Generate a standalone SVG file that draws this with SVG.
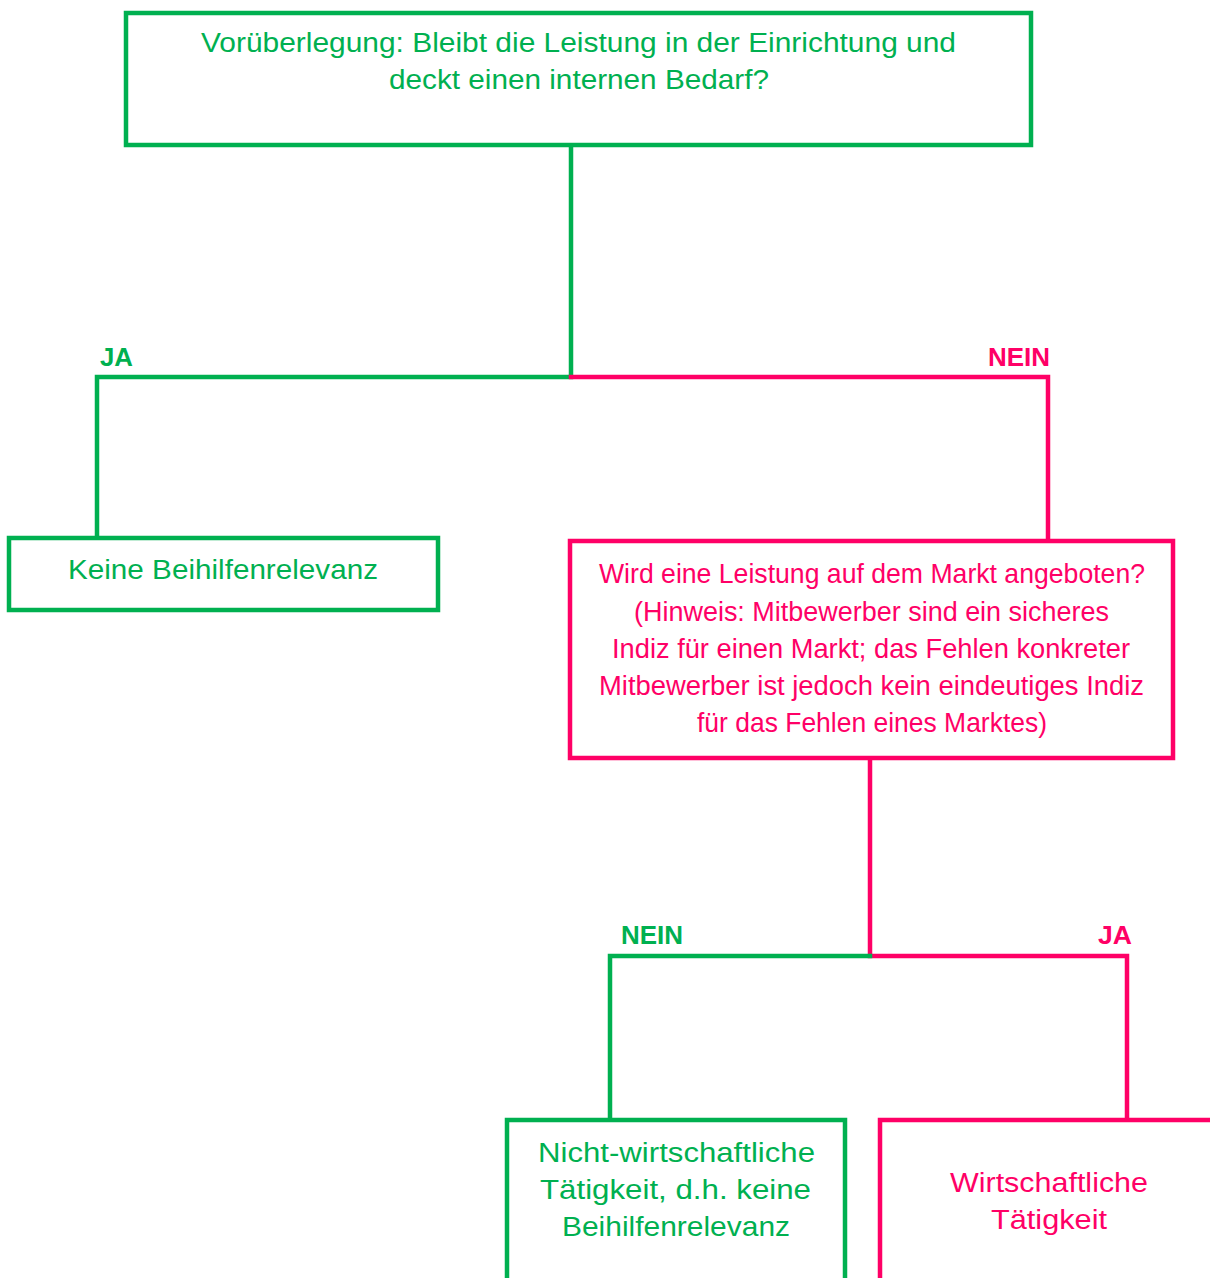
<svg xmlns="http://www.w3.org/2000/svg" width="1210" height="1278" viewBox="0 0 1210 1278">
<style>
.g{stroke:#00B050}
.p{stroke:#FF0066}
.box{fill:#fff;stroke-width:4.5}
.ln{fill:none;stroke-width:4.5;stroke-linecap:square}
.t{font-family:"Liberation Sans",Arial,sans-serif;font-size:27.5px;text-anchor:middle}
.lb{font-family:"Liberation Sans",Arial,sans-serif;font-size:25px;font-weight:bold}
.tg{fill:#00B050}
.tp{fill:#FF0066}
</style>
<rect width="1210" height="1278" fill="#fff"/>
<g id="connectors">
<polyline class="ln g" points="571,147 571,377 97,377 97,536"/>
<polyline class="ln p" points="571,377 1048,377 1048,539"/>
<polyline class="ln p" points="870,760 870,956 1127,956 1127,1118"/>
<polyline class="ln g" points="870,956 610,956 610,1118"/>
<text class="lb tg" x="100" y="366" textLength="33" lengthAdjust="spacingAndGlyphs">JA</text>
<text class="lb tp" x="988" y="366" textLength="62" lengthAdjust="spacingAndGlyphs">NEIN</text>
<text class="lb tg" x="621" y="944" textLength="62" lengthAdjust="spacingAndGlyphs">NEIN</text>
<text class="lb tp" x="1098" y="944" textLength="34" lengthAdjust="spacingAndGlyphs">JA</text>
</g>
<g id="n1">
<rect class="box g" x="126" y="13" width="905" height="132"/>
<text class="t tg" x="578.5" y="52" textLength="755" lengthAdjust="spacingAndGlyphs">Vorüberlegung: Bleibt die Leistung in der Einrichtung und</text>
<text class="t tg" x="579" y="89" textLength="380" lengthAdjust="spacingAndGlyphs">deckt einen internen Bedarf?</text>
</g>
<g id="n2">
<rect class="box g" x="9" y="538" width="429" height="72"/>
<text class="t tg" x="223" y="579" textLength="310" lengthAdjust="spacingAndGlyphs">Keine Beihilfenrelevanz</text>
</g>
<g id="n3">
<rect class="box p" x="570" y="541" width="603" height="217"/>
<text class="t tp" x="872" y="583" textLength="546" lengthAdjust="spacingAndGlyphs">Wird eine Leistung auf dem Markt angeboten?</text>
<text class="t tp" x="871.5" y="621" textLength="475" lengthAdjust="spacingAndGlyphs">(Hinweis: Mitbewerber sind ein sicheres</text>
<text class="t tp" x="871" y="658" textLength="518" lengthAdjust="spacingAndGlyphs">Indiz für einen Markt; das Fehlen konkreter</text>
<text class="t tp" x="871.5" y="695" textLength="545" lengthAdjust="spacingAndGlyphs">Mitbewerber ist jedoch kein eindeutiges Indiz</text>
<text class="t tp" x="872" y="732" textLength="350" lengthAdjust="spacingAndGlyphs">für das Fehlen eines Marktes)</text>
</g>
<g id="n4">
<rect class="box g" x="507" y="1120" width="338" height="170"/>
<text class="t tg" x="676.5" y="1162" textLength="277" lengthAdjust="spacingAndGlyphs">Nicht-wirtschaftliche</text>
<text class="t tg" x="675.5" y="1199" textLength="271" lengthAdjust="spacingAndGlyphs">Tätigkeit, d.h. keine</text>
<text class="t tg" x="676" y="1236" textLength="228" lengthAdjust="spacingAndGlyphs">Beihilfenrelevanz</text>
</g>
<g id="n5">
<rect class="box p" x="880" y="1120" width="345" height="170"/>
<text class="t tp" x="1049" y="1192" textLength="198" lengthAdjust="spacingAndGlyphs">Wirtschaftliche</text>
<text class="t tp" x="1049" y="1229" textLength="116" lengthAdjust="spacingAndGlyphs">Tätigkeit</text>
</g>
</svg>
